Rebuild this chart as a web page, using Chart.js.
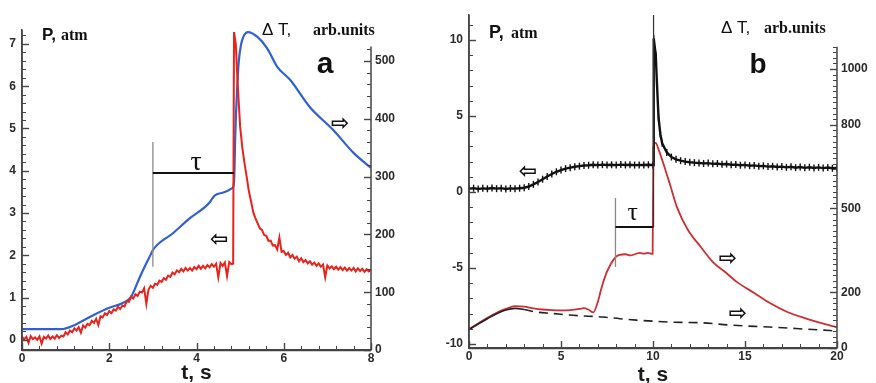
<!DOCTYPE html>
<html>
<head>
<meta charset="utf-8">
<script src="https://cdn.jsdelivr.net/npm/chart.js@4.4.1/dist/chart.umd.min.js"></script>
<style>
  html, body { margin: 0; padding: 0; background: #fff; }
  body { width: 876px; height: 383px; position: relative; overflow: hidden; }
  .panel { position: absolute; top: 0; width: 440px; height: 383px; }
  .panel canvas.frame { position: absolute; left: 0; top: 0; pointer-events: none; }
  #wrapA { left: 0; }
  #wrapB { left: 436px; }
</style>
</head>
<body>
<div class="panel" id="wrapA"><canvas id="chartA" width="440" height="383"></canvas></div>
<div class="panel" id="wrapB"><canvas id="chartB" width="440" height="383"></canvas></div>
<script>
// ---------- Panel a: pressure P (atm) and temperature rise ΔT (arb. units) ----------
// Pressure record sampled every 0.05 s
const aPressStep = 0.05;
// t = 0.00 ... 4.80 s
const aPressRise = [
  0.08, 0.01, 0.07, -0.07, 0.09, 0.02, 0.06, 0.00, 0.08, -0.09,
  0.07, 0.03, 0.10, 0.02, 0.08, 0.03, 0.11, 0.04, 0.10, 0.08,
  0.18, 0.13, 0.22, 0.18, 0.27, 0.22, 0.30, 0.17, 0.34, 0.29,
  0.38, 0.35, 0.45, 0.40, 0.50, 0.35, 0.56, 0.53, 0.63, 0.59,
  0.68, 0.63, 0.72, 0.69, 0.78, 0.73, 0.81, 0.79, 0.91, 0.90,
  1.02, 0.98, 1.08, 1.04, 1.14, 1.12, 1.22, 0.85, 1.19, 1.28,
  1.23, 1.33, 1.30, 1.40, 1.37, 1.46, 1.42, 1.52, 1.49, 1.59,
  1.55, 1.64, 1.60, 1.68, 1.62, 1.70, 1.64, 1.70, 1.64, 1.72,
  1.67, 1.75, 1.68, 1.75, 1.69, 1.77, 1.72, 1.79, 1.73, 1.80,
  1.48, 1.82, 1.75, 1.83, 1.51, 1.84, 1.79
];
// ignition jump
const aPressJumpT = [4.84, 4.86];
const aPressJumpV = [1.80, 7.28];
// t = 4.90 ... 8.00 s
const aPressDecayStart = 4.90;
const aPressDecay = [
  7.00, 5.95, 5.05, 4.55, 4.18, 3.86, 3.52, 3.28, 3.02, 2.88,
  2.76, 2.64, 2.60, 2.48, 2.46, 2.34, 2.35, 2.23, 2.24, 2.14,
  2.42, 2.08, 2.10, 2.01, 2.06, 1.95, 2.01, 1.92, 1.97, 1.86,
  1.93, 1.84, 1.89, 1.81, 1.86, 1.78, 1.83, 1.75, 1.81, 1.73,
  1.78, 1.48, 1.76, 1.69, 1.74, 1.67, 1.73, 1.66, 1.72, 1.65,
  1.71, 1.64, 1.70, 1.64, 1.70, 1.62, 1.69, 1.63, 1.68, 1.61,
  1.67, 1.62, 1.66
];
// temperature rise
const aTempT = [0, 0.9, 1.2, 1.6, 2.0, 2.3, 2.5, 2.7, 2.85, 2.95, 3.0, 3.46, 3.85, 4.31, 4.36, 4.43, 4.6, 4.82,
                4.86, 4.89, 4.93, 4.97, 5.02, 5.08, 5.18, 5.39, 5.62, 5.85, 6.15, 6.6, 7.13, 7.6, 8.0];
const aTempV = [36, 36, 43, 59, 73, 81, 92, 126, 150, 165, 173, 202, 228, 256, 262, 268, 272, 280,
                290, 375, 450, 500, 528, 543, 550, 542, 522, 490, 467, 420, 381, 341, 315];

// ---------- Panel b ----------
// pressure, every 0.25 s from 0 to 10 s
const bPressStep = 0.25;
const bPressFlat = [
  0.22, 0.25, 0.20, 0.24, 0.21, 0.26, 0.22, 0.25, 0.20, 0.24,
  0.22, 0.25, 0.28, 0.36, 0.50, 0.66, 0.84, 1.02, 1.18, 1.33,
  1.44, 1.54, 1.60, 1.66, 1.70, 1.74, 1.76, 1.79, 1.77, 1.80,
  1.78, 1.79, 1.77, 1.80, 1.78, 1.79, 1.77, 1.78, 1.78, 1.79,
  1.78
];
const bPressSpikeT = [10.04, 10.15, 10.22, 10.3, 10.4, 10.5];
const bPressSpikeV = [10.1, 9.0, 7.0, 4.9, 3.8, 3.2];
// every 0.25 s from 10.75 to 20 s
const bPressTailStart = 10.75;
const bPressTail = [
  2.60, 2.30, 2.15, 2.06, 2.00, 1.96, 1.93, 1.91, 1.88, 1.90,
  1.85, 1.87, 1.82, 1.84, 1.79, 1.80, 1.76, 1.78, 1.73, 1.75,
  1.70, 1.72, 1.67, 1.69, 1.64, 1.67, 1.62, 1.66, 1.60, 1.64,
  1.59, 1.63, 1.58, 1.62, 1.57, 1.61, 1.56, 1.58
];
// temperature rise with ignition
const bHeatT = [0, 0.5, 1, 1.5, 2, 2.5, 3, 3.5, 4, 4.5, 5, 5.5, 6, 6.25, 6.5, 6.76, 7.0, 7.2, 7.47, 7.7,
                7.84, 8.0, 8.2, 8.5, 8.8, 9.0, 9.3, 9.5, 9.7, 9.98, 10.02, 10.15, 10.3, 10.5, 10.9, 11.3, 11.9, 12.6, 13.3, 14.0,
                14.55, 15.5, 16.35, 17.3, 18.2, 19.1, 20];
const bHeatV = [68, 88, 108, 126, 140, 150, 148, 142, 138, 136, 135, 136, 140, 143, 137, 128, 165, 215, 269, 300,
                315, 328, 334, 336, 332, 336, 341, 338, 341, 337, 720, 735, 712, 674, 591, 505, 423, 362, 305, 268,
                237, 197, 161, 129, 108, 90, 74];
// temperature rise without ignition
const bBaseT = [0, 0.5, 1, 1.5, 2, 2.5, 3, 3.65, 4.5, 5.45, 6.5, 7.3, 8.2, 9.1, 10.9, 12.75, 14.2, 16.35, 18.2, 20];
const bBaseV = [66, 86, 105, 123, 136, 142, 138, 129, 124, 118, 114, 111, 105, 100, 93, 90, 82, 75, 68, 61];

// tick labels
const aTimeTicks = [0, 2, 4, 6, 8];
const aPressTicks = [0, 1, 2, 3, 4, 5, 6, 7];
const aTempTicks = [0, 100, 200, 300, 400, 500];
const bTimeTicks = [0, 5, 10, 15, 20];
const bPressTicks = [-10, -5, 0, 5, 10];
const bTempTicks = [0, 200, 500, 800, 1000];

// ---------- helpers ----------
const zip = (ts, vs) => ts.map((t, i) => ({ x: t, y: vs[i] }));
const sampled = (start, step, vs) => vs.map((v, i) => ({ x: +(start + i * step).toFixed(3), y: v }));

const aPressPts = [].concat(sampled(0, aPressStep, aPressRise), zip(aPressJumpT, aPressJumpV),
                            sampled(aPressDecayStart, aPressStep, aPressDecay));
const aTempPts = zip(aTempT, aTempV);
const bPressPts = [].concat(sampled(0, bPressStep, bPressFlat), zip(bPressSpikeT, bPressSpikeV),
                            sampled(bPressTailStart, bPressStep, bPressTail));
const bHeatPts = zip(bHeatT, bHeatV);
const bBasePts = zip(bBaseT, bBaseV);

const SANS = '"Liberation Sans", Arial, Helvetica, sans-serif';
const SERIF = '"Liberation Serif", "Times New Roman", serif';
const tickFont = { family: SANS, size: 12, weight: 'bold' };
const AXIS = '#444';
const setTicks = vals => scale => { scale.ticks = vals.map(v => ({ value: v })); };

// axis lines with inward tick marks (long at labelled values, short in between),
// positioned from the chart's own scales
function drawFrame(ctx, scales, axes) {
  const sx = scales.x;
  const yBottom = sx.top;
  ctx.strokeStyle = AXIS;
  for (const ax of axes) {
    const s = scales[ax.id];
    const horiz = ax.id === 'x';
    const xEdge = ax.side === 'right' ? s.left : s.right;
    const dir = ax.side === 'right' ? -1 : 1;
    ctx.lineWidth = 1.5;
    ctx.beginPath();
    if (horiz) {
      ctx.moveTo(sx.getPixelForValue(sx.min), yBottom + 0.5);
      ctx.lineTo(sx.getPixelForValue(sx.max), yBottom + 0.5);
    } else {
      const top = ax.end !== undefined ? ax.end : s.max;
      ctx.moveTo(xEdge, s.getPixelForValue(s.min));
      ctx.lineTo(xEdge, s.getPixelForValue(top));
    }
    ctx.stroke();
    const n = Math.round((ax.to - ax.from) / ax.step);
    for (let i = 0; i <= n; i++) {
      const v = ax.from + i * ax.step;
      const isMajor = ax.major.some(m => Math.abs(m - v) < ax.step / 10);
      const len = isMajor ? 7 : 4;
      ctx.lineWidth = isMajor ? 1.4 : 1;
      const p = Math.round(s.getPixelForValue(v)) + 0.5;
      ctx.beginPath();
      if (horiz) { ctx.moveTo(p, yBottom); ctx.lineTo(p, yBottom - len); }
      else { ctx.moveTo(xEdge, p); ctx.lineTo(xEdge + dir * len, p); }
      ctx.stroke();
    }
  }
}

// the frame goes on its own transparent layer above the chart canvas
function addFrameLayer(chart, wrapId, axes) {
  const layer = document.createElement('canvas');
  layer.className = 'frame';
  layer.width = chart.width;
  layer.height = chart.height;
  document.getElementById(wrapId).appendChild(layer);
  drawFrame(layer.getContext('2d'), chart.scales, axes);
}

// τ brackets, direction arrows, axis captions and panel letters
function decorations(o) {
  return {
    id: 'panelDecor',
    afterDraw(chart) {
      const ctx = chart.ctx;
      const sx = chart.scales.x;
      const at = (axis, x, y) => [sx.getPixelForValue(x), chart.scales[axis].getPixelForValue(y)];
      ctx.save();
      o.segments.forEach(s => {
        const [x0, y0] = at(s.axis, s.x0, s.y0);
        const [x1, y1] = at(s.axis, s.x1, s.y1);
        ctx.strokeStyle = s.color; ctx.lineWidth = s.width;
        ctx.beginPath(); ctx.moveTo(x0, y0); ctx.lineTo(x1, y1); ctx.stroke();
      });
      ctx.fillStyle = '#111';
      ctx.textAlign = 'center'; ctx.textBaseline = 'alphabetic';
      const [tx, ty] = at(o.tau.axis, o.tau.x, o.tau.y);
      ctx.font = o.tau.size + 'px ' + SERIF;
      ctx.fillText('τ', tx, ty);
      ctx.textBaseline = 'middle';
      o.arrows.forEach(a => {
        const [ax, ay] = at(a.axis, a.x, a.y);
        ctx.font = 'bold ' + a.size + 'px "DejaVu Sans", sans-serif';
        ctx.fillText(a.ch, ax, ay);
      });
      ctx.textBaseline = 'alphabetic';
      o.texts.forEach(t => {
        ctx.font = t.font;
        ctx.textAlign = t.align || 'left';
        ctx.fillText(t.text, t.x, t.y);
      });
      ctx.restore();
    }
  };
}

function makeScales(cfg) {
  return {
    x: {
      type: 'linear', min: cfg.xMin, max: cfg.xMax,
      afterFit: s => { s.height = cfg.xHeight; },
      afterBuildTicks: setTicks(cfg.xTicks),
      grid: { display: false, drawTicks: false }, border: { display: true, color: AXIS, width: 1.5 },
      ticks: { padding: 1, font: tickFont, color: '#2b2b2b', maxRotation: 0, autoSkip: false, callback: v => String(v) },
      title: { display: true, text: 't, s', color: '#1a1a1a', font: { family: SANS, size: 21, weight: 'bold' },
               padding: { top: 0, bottom: cfg.titlePad } }
    },
    yP: {
      type: 'linear', position: 'left', min: cfg.pMin, max: cfg.pMax,
      afterFit: s => { s.width = cfg.leftW; },
      afterBuildTicks: setTicks(cfg.pTicks),
      grid: { display: false, drawTicks: false }, border: { display: true, color: AXIS, width: 1.5 },
      ticks: { padding: 6, font: tickFont, color: '#2b2b2b', autoSkip: false, callback: v => String(v) }
    },
    yT: {
      type: 'linear', position: 'right', min: 0, max: cfg.tMax,
      afterFit: s => { s.width = cfg.rightW; },
      afterBuildTicks: setTicks(cfg.tTicks),
      grid: { display: false, drawTicks: false }, border: { display: false },
      ticks: { padding: 4, font: tickFont, color: '#2b2b2b', autoSkip: false, callback: v => String(v) }
    }
  };
}

// ---------- chart a ----------
const chartA = new Chart(document.getElementById('chartA'), {
  type: 'line',
  data: {
    datasets: [
      { label: 'P', data: aPressPts, yAxisID: 'yP', borderColor: '#e8231c', borderWidth: 2,
        pointRadius: 0, tension: 0 },
      { label: 'ΔT', data: aTempPts, yAxisID: 'yT', borderColor: '#3060d2', borderWidth: 2.2,
        pointRadius: 0, cubicInterpolationMode: 'monotone' }
    ]
  },
  options: {
    responsive: false, animation: false, events: [],
    layout: { padding: { top: 30, left: 0, right: 0, bottom: 0 } },
    plugins: { legend: { display: false }, tooltip: { enabled: false } },
    scales: makeScales({ xMin: 0, xMax: 8, xHeight: 33, xTicks: aTimeTicks, titlePad: -3,
                         pMin: -0.24, pMax: 7.33, pTicks: aPressTicks, leftW: 22,
                         tMax: 553.6, tTicks: aTempTicks, rightW: 69 })
  },
  plugins: [
    decorations({
      segments: [
        { axis: 'yP', x0: 3, y0: 1.73, x1: 3, y1: 4.68, color: '#8a8a8a', width: 1.3 },
        { axis: 'yP', x0: 3, y0: 3.95, x1: 4.86, y1: 3.95, color: '#111', width: 2 }
      ],
      tau: { axis: 'yP', x: 3.99, y: 4.02, size: 28 },
      arrows: [
        { axis: 'yT', x: 7.29, y: 391, ch: '⇨', size: 22 },
        { axis: 'yP', x: 4.52, y: 2.36, ch: '⇦', size: 22 }
      ],
      texts: [
        { text: 'P,', x: 42, y: 40, font: 'bold 17px ' + SANS },
        { text: 'atm', x: 61, y: 40, font: 'bold 16px ' + SERIF },
        { text: 'Δ T,', x: 262, y: 35, font: '17px ' + SANS },
        { text: 'arb.units', x: 313, y: 35, font: 'bold 16px ' + SERIF },
        { text: 'a', x: 325, y: 73, font: 'bold 30px ' + SANS, align: 'center' }
      ]
    })
  ]
});
addFrameLayer(chartA, 'wrapA', [
  { id: 'x', from: 0, to: 8, step: 0.4, major: aTimeTicks },
  { id: 'yP', side: 'left', from: 0, to: 7.2, step: 0.2, major: aPressTicks },
  { id: 'yT', side: 'right', from: 0, to: 520, step: 20, major: aTempTicks, end: 525 }
]);

// ---------- chart b ----------
const chartB = new Chart(document.getElementById('chartB'), {
  type: 'line',
  data: {
    datasets: [
      { label: 'P', data: bPressPts, yAxisID: 'yP', borderColor: '#111', borderWidth: 2.4,
        pointStyle: 'line', pointRotation: 90, pointRadius: 3.5, pointBorderWidth: 1.4,
        pointBorderColor: '#111', tension: 0 },
      { label: 'ΔT without ignition', data: bBasePts, yAxisID: 'yT', borderColor: '#222', borderWidth: 1.6,
        pointRadius: 0, cubicInterpolationMode: 'monotone',
        segment: { borderDash: c => (c.p0.parsed.x >= 2.8 ? [9, 6] : undefined) } },
      { label: 'ΔT', data: bHeatPts, yAxisID: 'yT', borderColor: '#cc2f33', borderWidth: 1.8,
        pointRadius: 0, cubicInterpolationMode: 'monotone' }
    ]
  },
  options: {
    responsive: false, animation: false, events: [],
    layout: { padding: { top: 15, left: 0, right: 0, bottom: 0 } },
    plugins: { legend: { display: false }, tooltip: { enabled: false } },
    scales: makeScales({ xMin: 0, xMax: 20, xHeight: 35, xTicks: bTimeTicks, titlePad: -5,
                         pMin: -10.26, pMax: 11.64, pTicks: bPressTicks, leftW: 33,
                         tMax: 1193.5, tTicks: bTempTicks, rightW: 39 })
  },
  plugins: [
    decorations({
      segments: [
        { axis: 'yP', x0: 7.96, y0: -0.39, x1: 7.96, y1: -4.93, color: '#8a8a8a', width: 1.3 },
        { axis: 'yP', x0: 7.96, y0: -2.3, x1: 10.03, y1: -2.3, color: '#111', width: 2 },
        { axis: 'yP', x0: 10.03, y0: -2.3, x1: 10.03, y1: 11.64, color: '#333', width: 1.2 }
      ],
      tau: { axis: 'yP', x: 8.9, y: -1.84, size: 26 },
      arrows: [
        { axis: 'yP', x: 3.2, y: 1.3, ch: '⇦', size: 22 },
        { axis: 'yT', x: 14.06, y: 319, ch: '⇨', size: 22 },
        { axis: 'yT', x: 14.6, y: 122, ch: '⇨', size: 22 }
      ],
      texts: [
        { text: 'P,', x: 53, y: 38, font: 'bold 18px ' + SANS },
        { text: 'atm', x: 75, y: 38, font: 'bold 16px ' + SERIF },
        { text: 'Δ T,', x: 285, y: 33, font: '17px ' + SANS },
        { text: 'arb.units', x: 328, y: 33, font: 'bold 16px ' + SERIF },
        { text: 'b', x: 322, y: 73, font: 'bold 28px ' + SANS, align: 'center' }
      ]
    })
  ]
});
addFrameLayer(chartB, 'wrapB', [
  { id: 'x', from: 0, to: 20, step: 1, major: bTimeTicks },
  { id: 'yP', side: 'left', from: -10, to: 11, step: 1, major: bPressTicks },
  { id: 'yT', side: 'right', from: 0, to: 1080, step: 20, major: bTempTicks, end: 1080 }
]);
</script>
</body>
</html>
